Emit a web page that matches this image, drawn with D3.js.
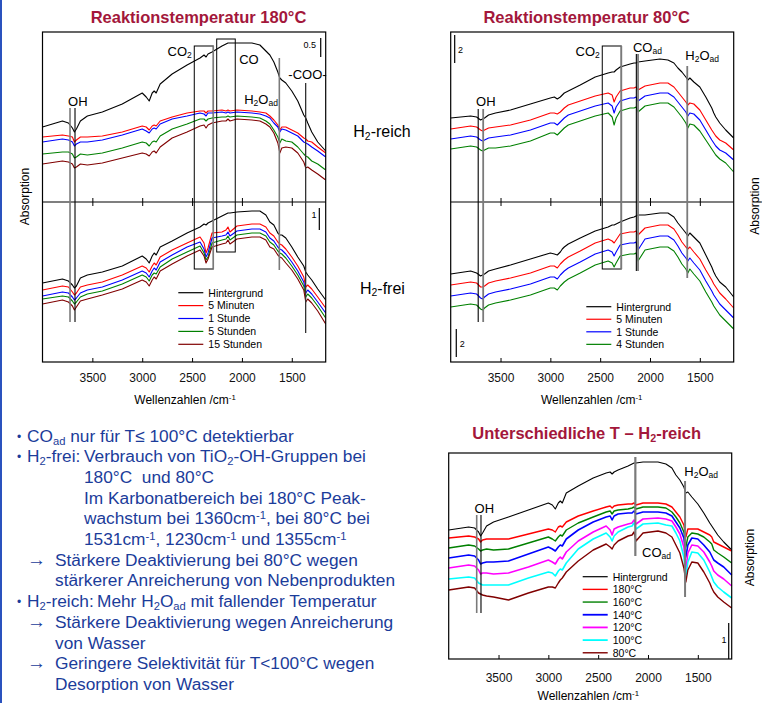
<!DOCTYPE html>
<head>
  <meta charset="utf-8" />
  <script src="https://d3js.org/d3.v7.min.js"></script>
  <style>
    body { margin: 0; background: #fff; }
    svg text { font-family: "Liberation Sans", Arial, sans-serif; }
  </style>
</head>
<body>
<script>
// wavenumber grid (cm-1), shared by all spectra
var wn = [4000, 3800, 3740, 3700, 3680, 3660, 3620, 3550, 3400, 3200,
  3000, 2960, 2930, 2900, 2880, 2860, 2820, 2700, 2550, 2420,
  2380, 2360, 2340, 2300, 2200, 2160, 2140, 2120, 2050, 1900,
  1820, 1760, 1720, 1680, 1640, 1620, 1600, 1560, 1500, 1440,
  1380, 1360, 1340, 1300, 1240, 1160];

// 180°C, H2-reich
var rich180Bg = [7.5, 8.1, 7.9, 7.4, 7.0, 7.3, 8.1, 8.6, 9.0, 9.8,
  10.9, 10.5, 10.1, 10.9, 11.1, 10.9, 11.8, 12.8, 13.7, 14.4,
  14.7, 14.5, 14.8, 15.0, 15.6, 15.8, 15.9, 15.9, 15.9, 15.9,
  15.7, 15.1, 14.7, 14.0, 13.0, 12.4, 12.2, 11.9, 11.1, 10.1,
  8.7, 8.4, 7.9, 7.0, 6.0, 5.1];
var rich180Min5 = [6.5, 6.7, 6.6, 6.5, 6.0, 6.2, 6.5, 6.5, 6.6, 7.0,
  7.6, 7.5, 7.2, 7.6, 7.7, 7.6, 8.1, 8.5, 8.9, 9.1,
  9.1, 8.9, 9.1, 9.1, 9.2, 9.1, 9.2, 9.1, 9.2, 9.1,
  9.0, 8.9, 8.6, 8.2, 7.7, 7.2, 7.5, 7.5, 7.2, 6.9,
  6.4, 6.3, 6.1, 6.0, 5.5, 4.9];
var rich180Hour1 = [6.0, 6.3, 6.2, 6.0, 5.6, 5.8, 6.0, 6.0, 6.2, 6.7,
  7.3, 7.1, 6.9, 7.3, 7.4, 7.3, 7.8, 8.3, 8.6, 8.9,
  8.8, 8.6, 8.9, 8.9, 9.0, 8.9, 9.0, 8.9, 9.0, 8.9,
  8.8, 8.6, 8.4, 7.9, 7.5, 7.0, 7.3, 7.2, 6.9, 6.6,
  6.0, 5.9, 5.8, 5.5, 5.1, 4.5];
var rich180Hour5 = [4.8, 5.0, 5.0, 4.8, 4.4, 4.5, 4.8, 4.7, 4.9, 5.4,
  6.0, 5.9, 5.6, 6.0, 6.1, 6.0, 6.6, 7.3, 7.8, 8.3,
  8.3, 8.1, 8.3, 8.4, 8.5, 8.5, 8.6, 8.5, 8.6, 8.5,
  8.4, 8.1, 7.8, 7.2, 6.5, 5.9, 6.3, 6.1, 6.0, 5.5,
  4.8, 4.6, 4.5, 4.1, 3.8, 3.2];
var rich180Hour15 = [3.8, 4.1, 4.0, 3.8, 3.4, 3.5, 3.8, 3.7, 3.9, 4.4,
  4.9, 4.8, 4.6, 5.0, 5.1, 4.9, 5.5, 6.4, 7.0, 7.6,
  7.7, 7.4, 7.7, 7.9, 8.1, 8.1, 8.3, 8.1, 8.3, 8.2,
  8.1, 7.8, 7.5, 6.9, 5.9, 4.9, 5.4, 5.5, 5.4, 4.9,
  4.0, 3.4, 3.5, 3.2, 2.8, 2.2];

// 180°C, H2-frei
var free180Bg = [7.9, 8.3, 8.1, 7.7, 7.4, 7.6, 8.4, 8.7, 9.0, 9.6,
  10.6, 10.3, 9.9, 10.6, 10.9, 10.7, 11.5, 12.1, 12.9, 13.5,
  13.8, 13.7, 13.9, 14.1, 14.6, 14.8, 14.9, 14.9, 15.0, 15.1,
  15.1, 14.7, 14.0, 13.7, 12.9, 12.7, 12.7, 12.4, 11.5, 10.5,
  9.6, 9.0, 8.7, 8.2, 7.3, 6.2];
var free180Min5 = [7.2, 7.6, 7.5, 7.0, 6.7, 6.9, 7.5, 7.7, 8.0, 8.7,
  9.6, 9.4, 9.0, 9.6, 9.9, 9.7, 10.5, 11.2, 11.9, 12.5,
  11.9, 10.9, 11.4, 12.9, 13.0, 13.2, 13.5, 13.0, 13.6, 13.8,
  13.8, 13.5, 12.9, 12.6, 12.0, 11.8, 11.7, 11.3, 10.5, 9.6,
  8.5, 7.5, 7.7, 7.3, 6.5, 5.4];
var free180Hour1 = [6.6, 7.0, 6.9, 6.5, 6.2, 6.4, 6.9, 7.2, 7.5, 8.2,
  9.1, 8.9, 8.5, 9.1, 9.4, 9.2, 10.0, 10.7, 11.5, 12.0,
  11.3, 10.5, 10.9, 12.4, 12.6, 12.7, 13.0, 12.6, 13.1, 13.3,
  13.3, 13.0, 12.4, 12.1, 11.5, 11.3, 11.2, 10.8, 10.0, 9.1,
  8.0, 6.9, 7.2, 6.8, 6.0, 4.9];
var free180Hour5 = [6.3, 6.6, 6.5, 6.1, 5.8, 6.0, 6.5, 6.8, 7.1, 7.8,
  8.7, 8.5, 8.1, 8.7, 8.9, 8.8, 9.5, 10.3, 11.0, 11.6,
  10.9, 10.2, 10.5, 11.9, 12.2, 12.3, 12.6, 12.2, 12.7, 12.9,
  12.9, 12.6, 12.0, 11.7, 11.1, 10.9, 10.8, 10.4, 9.6, 8.7,
  7.6, 6.5, 6.8, 6.4, 5.6, 4.4];
var free180Hour15 = [5.8, 6.2, 6.0, 5.6, 5.2, 5.5, 6.1, 6.3, 6.7, 7.3,
  8.2, 8.0, 7.6, 8.2, 8.5, 8.3, 9.1, 9.8, 10.6, 11.2,
  10.6, 9.9, 10.3, 11.5, 11.8, 11.9, 12.2, 11.8, 12.3, 12.5,
  12.5, 12.2, 11.5, 11.3, 10.7, 10.5, 10.4, 9.9, 9.2, 8.3,
  7.2, 6.0, 6.3, 5.9, 5.1, 3.8];

// 80°C, H2-reich
var rich80Bg = [8.4, 8.6, 8.5, 8.2, 8.3, 8.4, 8.7, 8.9, 9.2, 9.8,
  10.4, 10.5, 10.3, 10.5, 10.7, 10.9, 11.1, 11.7, 12.5, 12.9,
  13.0, 13.0, 13.2, 13.5, 13.8, 13.9, 13.9, 14.0, 14.1, 14.3,
  14.2, 13.9, 13.4, 13.0, 12.5, 12.2, 12.4, 12.0, 11.5, 10.5,
  9.4, 8.9, 8.5, 7.9, 7.2, 6.4];
var rich80Min5 = [7.3, 7.6, 7.5, 7.2, 7.1, 7.2, 7.4, 7.5, 7.7, 8.2,
  8.9, 8.9, 8.8, 9.0, 9.2, 9.4, 9.7, 10.1, 10.6, 10.9,
  10.7, 10.0, 10.5, 11.1, 11.4, 11.4, 11.5, 11.2, 11.6, 11.9,
  11.9, 11.5, 11.0, 10.5, 10.0, 9.7, 9.9, 9.8, 9.2, 8.2,
  7.2, 6.9, 6.6, 6.2, 5.9, 5.2];
var rich80Hour1 = [6.3, 6.6, 6.5, 6.2, 6.1, 6.2, 6.4, 6.5, 6.7, 7.2,
  7.9, 7.9, 7.7, 8.0, 8.2, 8.4, 8.7, 9.1, 9.6, 9.9,
  9.6, 8.9, 9.5, 10.1, 10.4, 10.4, 10.5, 10.1, 10.6, 10.9,
  10.9, 10.5, 10.0, 9.5, 9.0, 8.6, 8.9, 8.8, 8.2, 7.2,
  6.2, 5.9, 5.6, 5.2, 4.9, 4.2];
var rich80Hour4 = [5.3, 5.6, 5.5, 5.2, 5.1, 5.2, 5.4, 5.4, 5.6, 6.1,
  6.9, 6.9, 6.7, 7.0, 7.2, 7.4, 7.7, 8.1, 8.6, 8.9,
  8.5, 7.7, 8.4, 9.1, 9.4, 9.4, 9.5, 9.0, 9.6, 9.9,
  9.9, 9.5, 9.0, 8.5, 7.9, 7.4, 7.8, 7.7, 7.1, 6.2,
  5.3, 5.0, 4.7, 4.3, 3.9, 3.0];

// 80°C, H2-frei
var free80Bg = [8.8, 9.1, 8.9, 8.6, 8.7, 8.8, 9.1, 9.3, 9.7, 10.3,
  10.9, 10.8, 10.7, 11.0, 11.3, 11.5, 11.8, 12.4, 13.1, 13.5,
  13.7, 13.7, 13.8, 14.0, 14.4, 14.5, 14.6, 14.7, 14.7, 14.9,
  14.9, 14.5, 13.9, 13.4, 12.9, 12.6, 12.9, 12.5, 11.9, 10.7,
  9.5, 9.0, 8.6, 8.0, 7.5, 6.5];
var free80Min5 = [7.7, 8.0, 7.9, 7.5, 7.5, 7.6, 7.9, 8.1, 8.4, 8.9,
  9.6, 9.6, 9.4, 9.8, 10.0, 10.2, 10.5, 11.1, 11.9, 12.3,
  12.1, 11.9, 12.2, 12.8, 13.0, 13.0, 13.1, 12.7, 13.4, 13.7,
  13.7, 13.3, 12.7, 12.0, 11.5, 11.3, 11.5, 11.0, 10.3, 9.2,
  8.2, 7.8, 7.5, 6.9, 6.3, 5.4];
var free80Hour1 = [6.6, 6.9, 6.8, 6.4, 6.3, 6.5, 6.8, 7.0, 7.3, 7.8,
  8.5, 8.5, 8.3, 8.7, 8.9, 9.1, 9.4, 10.0, 10.8, 11.2,
  11.0, 10.6, 11.0, 11.7, 11.9, 11.9, 12.0, 11.2, 12.3, 12.6,
  12.6, 12.2, 11.6, 10.9, 10.4, 10.1, 10.4, 9.9, 9.2, 8.1,
  7.1, 6.7, 6.4, 5.8, 5.2, 4.4];
var free80Hour4 = [5.5, 5.8, 5.7, 5.3, 5.2, 5.4, 5.7, 5.9, 6.2, 6.7,
  7.4, 7.4, 7.2, 7.6, 7.8, 8.0, 8.3, 8.9, 9.7, 10.1,
  9.9, 9.5, 9.9, 10.6, 10.8, 10.8, 10.9, 10.1, 11.2, 11.5,
  11.5, 11.1, 10.5, 9.8, 9.3, 8.9, 9.3, 8.8, 8.1, 7.0,
  6.0, 5.6, 5.3, 4.7, 4.1, 3.3];

// different temperatures, H2-reich
var tempBg = [12.9, 13.2, 13.1, 12.7, 12.3, 12.6, 13.3, 13.7, 14.2, 14.9,
  15.6, 15.4, 15.0, 15.6, 15.8, 15.6, 16.6, 17.3, 18.1, 18.6,
  18.7, 18.5, 18.7, 18.9, 19.3, 19.5, 19.6, 19.6, 19.7, 19.7,
  19.5, 19.1, 18.4, 17.9, 17.2, 16.6, 16.7, 16.2, 15.5, 14.6,
  13.6, 13.3, 13.0, 12.4, 11.7, 10.9];
var temp180 = [12.1, 12.3, 12.2, 12.0, 11.7, 11.9, 12.0, 12.0, 12.0, 12.5,
  13.0, 12.9, 12.7, 13.2, 13.3, 13.2, 13.7, 14.3, 14.8, 15.2,
  15.3, 15.1, 15.3, 15.4, 15.5, 15.5, 15.6, 15.4, 15.6, 15.6,
  15.5, 15.2, 14.7, 14.2, 13.4, 12.2, 13.0, 13.0, 13.0, 12.7,
  12.4, 12.2, 11.7, 11.5, 11.2, 10.8];
var temp160 = [11.1, 11.4, 11.3, 11.0, 10.8, 10.9, 11.0, 10.9, 11.0, 11.6,
  12.2, 12.0, 11.8, 12.2, 12.4, 12.3, 12.9, 13.6, 14.2, 14.7,
  14.8, 14.5, 14.8, 14.9, 15.0, 15.1, 15.2, 15.0, 15.2, 15.2,
  15.1, 14.7, 14.2, 13.6, 12.7, 11.2, 12.2, 12.6, 12.5, 12.2,
  11.7, 11.5, 10.9, 10.6, 10.2, 9.6];
var temp140 = [10.1, 10.4, 10.3, 9.9, 9.5, 9.6, 9.7, 9.7, 9.8, 10.5,
  11.2, 11.0, 10.8, 11.2, 11.4, 11.3, 12.0, 12.9, 13.7, 14.2,
  14.3, 13.9, 14.3, 14.5, 14.6, 14.6, 14.8, 14.5, 14.7, 14.7,
  14.6, 14.3, 13.7, 13.1, 12.1, 10.2, 11.4, 12.1, 12.0, 11.4,
  10.7, 10.3, 9.9, 9.6, 9.2, 8.4];
var temp120 = [9.1, 9.4, 9.3, 8.9, 8.5, 8.6, 8.6, 8.5, 8.6, 9.2,
  9.9, 9.7, 9.5, 10.0, 10.2, 10.0, 10.7, 11.8, 12.7, 13.3,
  12.9, 12.4, 13.0, 13.2, 13.5, 13.6, 13.9, 13.5, 14.0, 14.1,
  14.0, 13.8, 13.2, 12.5, 11.2, 8.9, 10.6, 11.4, 11.3, 10.7,
  9.7, 9.3, 8.8, 8.4, 8.0, 7.3];
var temp100 = [8.0, 8.2, 8.1, 7.6, 7.5, 7.4, 7.4, 7.4, 7.4, 8.1,
  8.7, 8.6, 8.3, 8.8, 9.0, 8.9, 9.6, 11.0, 12.0, 12.6,
  12.2, 11.8, 12.3, 12.7, 13.2, 13.3, 13.6, 13.0, 13.5, 13.6,
  13.4, 13.3, 12.6, 11.8, 10.2, 8.2, 9.7, 10.7, 10.6, 9.9,
  8.7, 8.2, 7.7, 7.2, 6.7, 6.1];
var temp80 = [6.9, 7.2, 7.1, 6.6, 6.5, 6.4, 6.3, 6.2, 5.9, 6.6,
  7.2, 7.2, 7.1, 7.6, 7.9, 8.1, 8.7, 9.8, 10.9, 11.5,
  11.2, 11.0, 11.4, 11.8, 12.3, 12.4, 12.7, 11.8, 12.6, 12.8,
  12.6, 12.2, 11.4, 10.6, 9.1, 7.7, 8.9, 9.7, 9.6, 8.7,
  7.6, 7.1, 6.7, 6.2, 5.7, 5.1];

var names180 = ["Hintergrund", "5 Minuten", "1 Stunde", "5 Stunden", "15 Stunden"];
var names80 = ["Hintergrund", "5 Minuten", "1 Stunde", "4 Stunden"];
var namesT = ["Hintergrund", "180°C", "160°C", "140°C", "120°C", "100°C", "80°C"];
var xTicks = [3500, 3000, 2500, 2000, 1500];

var col5 = ["#000000", "#ff0000", "#0000ff", "#008000", "#800000"];
var col4 = ["#000000", "#ff0000", "#0000ff", "#008000"];
var col7 = ["#000000", "#ff0000", "#008000", "#0000ff", "#ff00ff", "#00ffff", "#800000"];
var GREY = "#7a7a7a";
var TITLE = "#a3173b";
var BLUE_TXT = "#1b3c9a";

var svg = d3.select("body").append("svg").attr("width", 762).attr("height", 703);

// left slide border
svg.append("rect").attr("x", 0).attr("y", 0).attr("width", 2).attr("height", 703).attr("fill", "#2a52be");

// scales
var x1 = d3.scaleLinear().domain([4000, 1160]).range([42.5, 325.7]);
var x2 = d3.scaleLinear().domain([4000, 1160]).range([450.7, 733.7]);
var x3 = d3.scaleLinear().domain([4000, 1160]).range([448.7, 731.7]);
var y1u = d3.scaleLinear().domain([0, 17]).range([202, 32]);
var y1l = d3.scaleLinear().domain([0, 16]).range([362, 202]);
var y2u = y1u.copy(), y2l = y1l.copy();
var y3 = d3.scaleLinear().domain([0, 20.6]).range([659, 453]);

// text with _{sub} and ^{sup}
function rich(sel, str, fs) {
  var parts = str.split(/(_\{[^}]*\}|\^\{[^}]*\})/).filter(function (s) { return s.length; });
  var cur = 0;
  parts.forEach(function (p) {
    var mode = 0, t = p;
    if (p.slice(0, 2) == "_{") { mode = 1; t = p.slice(2, -1); }
    else if (p.slice(0, 2) == "^{") { mode = 2; t = p.slice(2, -1); }
    var target = mode == 1 ? fs * 0.18 : mode == 2 ? -fs * 0.3 : 0;
    var ts = sel.append("tspan").text(t).attr("dy", (target - cur).toFixed(2));
    if (mode) ts.attr("font-size", (fs * 0.65).toFixed(1));
    cur = target;
  });
}

function label(x, y, str, fs, anchor, color, weight) {
  var t = svg.append("text").attr("x", x).attr("y", y)
    .attr("font-size", fs).attr("text-anchor", anchor || "start")
    .attr("fill", color || "#000").attr("font-weight", weight || "normal")
    .style("white-space", "pre");
  rich(t, str, fs);
  return t;
}

function curves(x, y, list, colors, widths) {
  var line = d3.line().x(function (d, i) { return x(wn[i]); }).y(function (d) { return y(d); });
  list.forEach(function (s, i) {
    svg.append("path").datum(s).attr("d", line)
      .attr("fill", "none").attr("stroke", colors[i])
      .attr("stroke-width", widths ? widths[i] : 1.1)
      .attr("stroke-linejoin", "round");
  });
}

function frame(x, top, bottom) {
  svg.append("rect").attr("x", x.range()[0]).attr("y", top)
    .attr("width", x.range()[1] - x.range()[0]).attr("height", bottom - top)
    .attr("fill", "none").attr("stroke", "#000").attr("stroke-width", 1.2);
}

function xAxis(x, yPos, pad, withLabels, top) {
  var ax = (top ? d3.axisTop(x) : d3.axisBottom(x)).tickValues(xTicks).tickSize(-4).tickPadding(pad)
    .tickFormat(withLabels ? d3.format("d") : "");
  var g = svg.append("g").attr("transform", "translate(0," + yPos + ")").call(ax);
  g.select(".domain").remove();
  g.selectAll("line").attr("stroke", "#000");
  g.selectAll("text").attr("font-size", 12).attr("fill", "#111")
    .attr("font-family", '"Liberation Sans", Arial, sans-serif');
}

function vline(x, v, ya, yb, color, w) {
  svg.append("line").attr("x1", x(v)).attr("x2", x(v)).attr("y1", ya).attr("y2", yb)
    .attr("stroke", color).attr("stroke-width", w);
}

function box(x, a, b, ya, yb) {
  svg.append("rect").attr("x", x(a)).attr("y", ya).attr("width", x(b) - x(a)).attr("height", yb - ya)
    .attr("fill", "none").attr("stroke", "#000").attr("stroke-width", 1);
}

function legend(lx, ly, step, names, colors, w) {
  var g = svg.append("g").attr("transform", "translate(" + lx + "," + ly + ")");
  names.forEach(function (n, i) {
    g.append("line").attr("x1", 0).attr("x2", 25).attr("y1", i * step).attr("y2", i * step)
      .attr("stroke", colors[i]).attr("stroke-width", w ? w[i] : 1.2);
    g.append("text").attr("x", 30).attr("y", i * step + 3.8).attr("font-size", 10.5).text(n);
  });
}

function sideLabel(cx, cy) {
  svg.append("text").attr("transform", "translate(" + cx + "," + cy + ") rotate(-90)")
    .attr("text-anchor", "middle").attr("font-size", 12).text("Absorption");
}

// ---------- Panel 1: 180°C ----------
label(198.5, 22.5, "Reaktionstemperatur 180°C", 16.5, "middle", TITLE, "bold");
curves(x1, y1u, [rich180Bg, rich180Min5, rich180Hour1, rich180Hour5, rich180Hour15], col5);
curves(x1, y1l, [free180Bg, free180Min5, free180Hour1, free180Hour5, free180Hour15], col5);
frame(x1, 32, 362);
svg.append("line").attr("x1", x1.range()[0]).attr("x2", x1.range()[1]).attr("y1", 202).attr("y2", 202)
  .attr("stroke", "#000").attr("stroke-width", 1.2);
xAxis(x1, 202, 3, false, false);
xAxis(x1, 202, 3, false, true);
xAxis(x1, 362, 11, true, false);

vline(x1, 3724, y1u(9.4), y1l(4.0), GREY, 1.6);
vline(x1, 3674, y1u(9.4), y1l(4.0), "#000", 1.1);
box(x1, 2478, 2287, y1u(15.6), y1l(9.3));
box(x1, 2253, 2067, y1u(16.3), y1l(11.0));
vline(x1, 2287, y1u(15.6), y1l(9.3), GREY, 1.5);
vline(x1, 1625, y1u(14.4), y1l(9.2), GREY, 1.6);
vline(x1, 1361, y1u(11.9), y1l(2.9), "#333", 1.3);
vline(x1, 1210, y1u(16.4), y1u(14.5), "#000", 1.2);
vline(x1, 1224, y1l(15.4), y1l(13.2), "#000", 1.2);

label(x1(3646), y1u(9.6), "OH", 13, "middle");
label(x1(2478) - 2.5, y1u(14.6), "CO_{2}", 13, "end");
label(x1(2027), y1u(13.8), "CO", 13, "start");
label(x1(1977), y1u(9.8), "H_{2}O_{ad}", 13, "start");
label(x1(1535), y1u(12.3), "-COO-", 13, "start");
label(x1(1257), y1u(15.4), "0.5", 9, "end");
label(x1(1277), y1l(14.4), "1", 9, "middle");
legend(178.3, 292.7, 12.9, names180, col5);

sideLabel(28.5, 196.5);
label(185, 404, "Wellenzahlen /cm^{-1}", 12, "middle");

label(353.3, 137, "H_{2}-reich", 16, "start");
label(360, 293.5, "H_{2}-frei", 16, "start");

// ---------- Panel 2: 80°C ----------
label(586.7, 22.5, "Reaktionstemperatur 80°C", 16.5, "middle", TITLE, "bold");
curves(x2, y2u, [rich80Bg, rich80Min5, rich80Hour1, rich80Hour4], col4);
curves(x2, y2l, [free80Bg, free80Min5, free80Hour1, free80Hour4], col4);
frame(x2, 32, 362);
svg.append("line").attr("x1", x2.range()[0]).attr("x2", x2.range()[1]).attr("y1", 202).attr("y2", 202)
  .attr("stroke", "#000").attr("stroke-width", 1.2);
xAxis(x2, 202, 3, false, false);
xAxis(x2, 202, 3, false, true);
xAxis(x2, 362, 11, true, false);

vline(x2, 3724, y2u(9.3), y2l(4.0), "#000", 1.1);
vline(x2, 3674, y2u(9.3), y2l(4.0), GREY, 1.8);
box(x2, 2479, 2288, y2u(15.6), y2l(9.3));
vline(x2, 2288, y2u(15.6), y2l(9.3), GREY, 1.8);
vline(x2, 2137, y2u(14.8), y2l(9.1), "#000", 1.1);
vline(x2, 2120, y2u(14.8), y2l(9.1), GREY, 1.8);
vline(x2, 1626, y2u(13.6), y2l(8.4), GREY, 1.8);
vline(x2, 3960, y2u(16.7), y2u(13.9), "#000", 1.2);
vline(x2, 3944, y2l(3.3), y2l(0.5), "#000", 1.2);

label(x2(3648), y2u(9.6), "OH", 13, "middle");
label(x2(2479) - 2.5, y2u(14.6), "CO_{2}", 13, "end");
label(x2(2171), y2u(15.0), "CO_{ad}", 13, "start");
label(x2(1646), y2u(14.2), "H_{2}O_{ad}", 13, "start");
label(x2(3927), y2u(14.9), "2", 9, "start");
label(x2(3910), y2l(1.5), "2", 9, "start");
legend(586.3, 306.7, 12.55, names80, col4);

sideLabel(758.5, 206);
label(591.7, 404, "Wellenzahlen /cm^{-1}", 12, "middle");

// ---------- Panel 3: different T ----------
label(586.7, 439.3, "Unterschiedliche T – H_{2}-reich", 16.5, "middle", TITLE, "bold");
curves(x3, y3, [tempBg, temp180, temp160, temp140, temp120, temp100, temp80], col7,
  [1.1, 1.4, 1.4, 1.6, 1.6, 1.6, 1.4]);
frame(x3, 453, 659);
xAxis(x3, 659, 14, true, false);

vline(x3, 3719, y3(14.4), y3(4.6), GREY, 1.6);
vline(x3, 3676, y3(14.4), y3(4.6), "#000", 1.1);
vline(x3, 2127, y3(20.2), y3(10.3), GREY, 2.2);
vline(x3, 1628, y3(17.8), y3(6.2), GREY, 2);
vline(x3, 1190, y3(3.6), y3(0), "#000", 1.2);

label(x3(3643), y3(14.6), "OH", 13, "middle");
label(x3(2060), y3(10.2), "CO_{ad}", 13, "start");
label(x3(1636), y3(18.3), "H_{2}O_{ad}", 13, "start");
label(x3(1237), y3(1.6), "1", 9, "middle");
legend(582.7, 576.7, 12.68, namesT, col7, [1.2, 1.4, 1.4, 1.8, 1.8, 1.8, 1.4]);

sideLabel(753.5, 557.5);
label(588.3, 700, "Wellenzahlen /cm^{-1}", 12, "middle");

// ---------- bullet text ----------
var notes = [
  { kind: "bullet", x: 27, t: "CO_{ad} nur für T≤ 100°C detektierbar" },
  { kind: "bullet", x: 27, t: "H_{2}-frei:", x2: 84, t2: "Verbrauch von TiO_{2}-OH-Gruppen bei" },
  { kind: "", x: 84, t: "180°C  und 80°C" },
  { kind: "", x: 84, t: "Im Karbonatbereich bei 180°C Peak-" },
  { kind: "", x: 84, t: "wachstum bei 1360cm^{-1}, bei 80°C bei" },
  { kind: "", x: 84, t: "1531cm^{-1}, 1230cm^{-1} und 1355cm^{-1}" },
  { kind: "arrow", x: 55, t: "Stärkere Deaktivierung bei 80°C wegen" },
  { kind: "", x: 55, t: "stärkerer Anreicherung von Nebenprodukten" },
  { kind: "bullet", x: 27, t: "H_{2}-reich:", x2: 97, t2: "Mehr H_{2}O_{ad} mit fallender Temperatur" },
  { kind: "arrow", x: 55, t: "Stärkere Deaktivierung wegen Anreicherung" },
  { kind: "", x: 55, t: "von Wasser" },
  { kind: "arrow", x: 55, t: "Geringere Selektivität für T<100°C wegen" },
  { kind: "", x: 55, t: "Desorption von Wasser" }
];
var FS = 17.3;
notes.forEach(function (n, i) {
  var yb = 441.5 + i * 20.7;
  if (n.kind == "bullet") label(17, yb - 1, "•", 12, "start", BLUE_TXT);
  if (n.kind == "arrow") {
    svg.append("text").attr("x", 27).attr("y", yb).attr("font-size", 19)
      .attr("font-family", '"DejaVu Sans", sans-serif').attr("fill", BLUE_TXT).text("\u2192");
  }
  label(n.x, yb, n.t, FS, "start", BLUE_TXT);
  if (n.t2) label(n.x2, yb, n.t2, FS, "start", BLUE_TXT);
});
</script>
</body>
